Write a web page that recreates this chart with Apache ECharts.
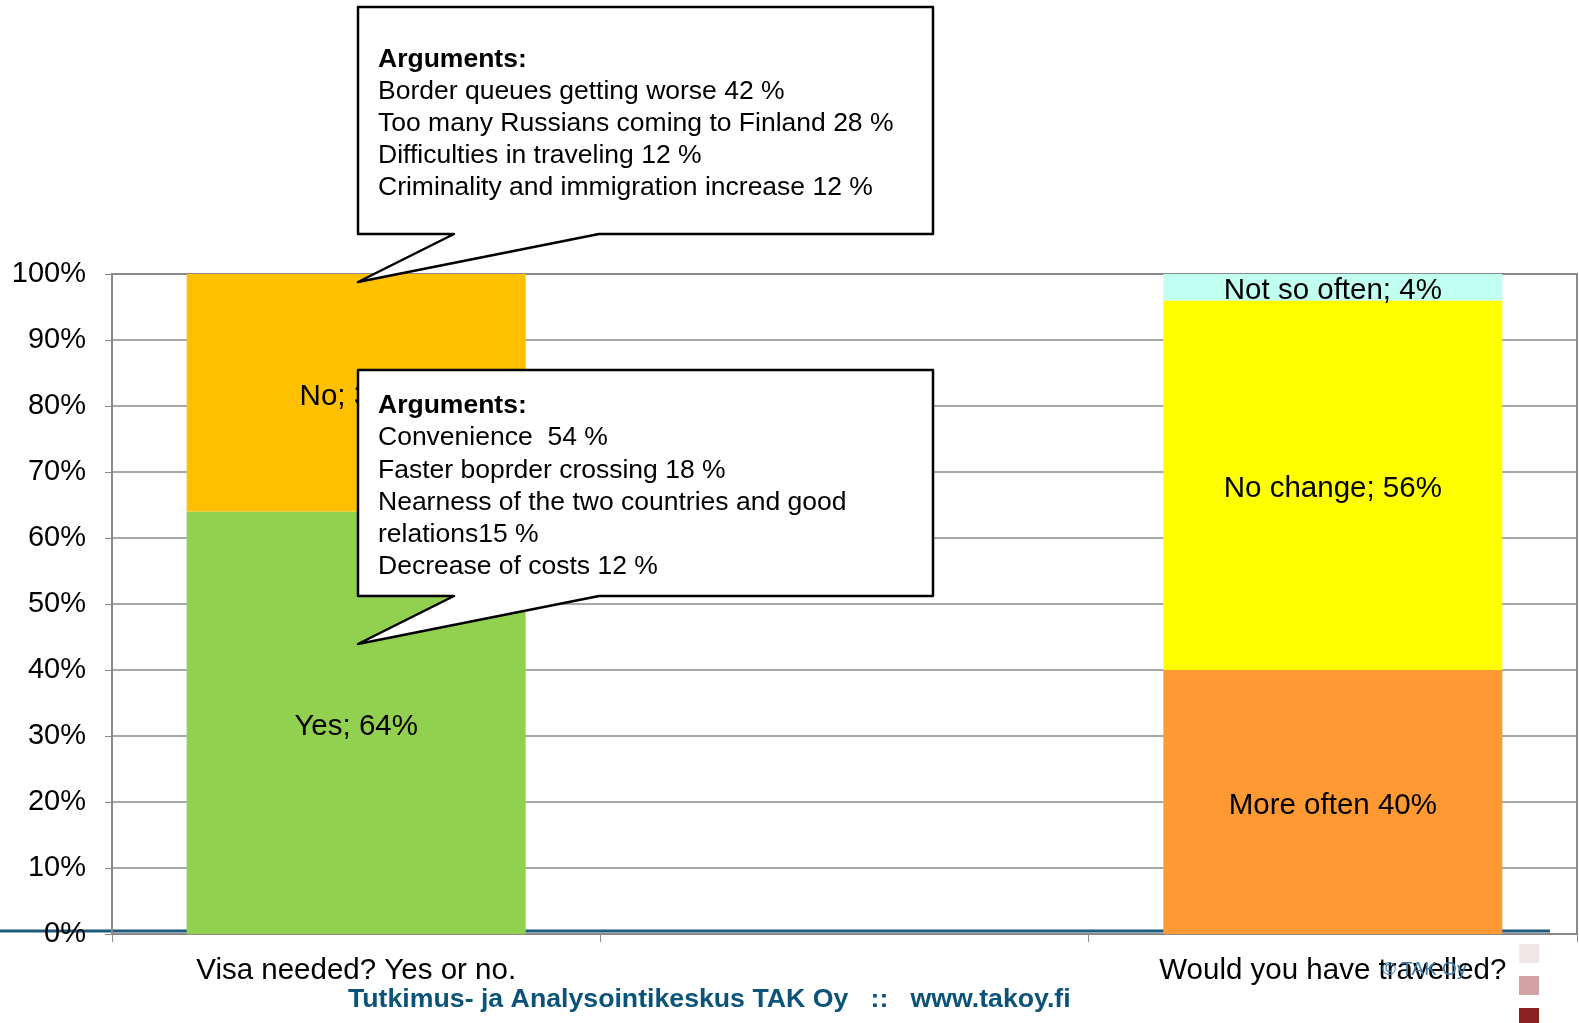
<!DOCTYPE html>
<html>
<head>
    <meta charset="UTF-8">
    <title>Visa</title>
    <script type="text/javascript" src="https://cdn.jsdelivr.net/npm/echarts@6/dist/echarts.min.js"></script>
    <style>
        body { margin: 0; background: #ffffff; }
        #main { width: 1579px; height: 1023px; }
    </style>
</head>
<body>
<div id="main"></div>
<script>
    var categories = ['Visa needed? Yes or no.', '', 'Would you have travelled?'];
    var yesData = [64, null, null];
    var noData = [36, null, null];
    var moreOften = [null, null, 40];
    var noChange = [null, null, 56];
    var notSoOften = [null, null, 4];
    var seriesNames = ['Yes', 'No', 'More often', 'No change', 'Not so often'];
    var labelSep = ['; ', '; ', ' ', '; ', '; '];
    var colors = ['#92d050', '#ffc000', '#ff9933', '#ffff00', '#c1fff0'];

    var topArgs = ['Border queues getting worse 42 %', 'Too many Russians coming to Finland 28 %',
        'Difficulties in traveling 12 %', 'Criminality and immigration increase 12 %'];
    var lowArgs = ['Convenience  54 %', 'Faster boprder crossing 18 %',
        'Nearness of the two countries and good', 'relations15 %', 'Decrease of costs 12 %'];

    var font = 'Liberation Sans, Arial, sans-serif';

    function makeSeries(idx, data) {
        return {
            name: seriesNames[idx],
            type: 'bar',
            stack: 'all',
            barWidth: 339,
            data: data,
            itemStyle: { color: colors[idx] },
            label: {
                show: true,
                position: 'inside',
                offset: [0, 4],
                color: '#000',
                fontFamily: font,
                fontSize: 29.5,
                formatter: function (p) { return seriesNames[idx] + labelSep[idx] + p.value + '%'; }
            }
        };
    }

    // speech-bubble box with its pointer
    function bubble(top, bottom, tipY) {
        return {
            type: 'polygon',
            z: 100,
            shape: { points: [[358, top], [933, top], [933, bottom], [599, bottom],
                [358, tipY], [454, bottom], [358, bottom]] },
            style: { fill: '#fff', stroke: '#000', lineWidth: 2.5, lineJoin: 'round' }
        };
    }

    function textLine(txt, y, bold) {
        return { type: 'text', z: 101, left: 378, top: y,
            style: { text: txt, font: (bold ? 'bold ' : '') + '26.5px ' + font, fill: '#000' } };
    }

    var graphics = [];
    // blue decoration line behind bars
    graphics.push({
        type: 'line', z: 0,
        shape: { x1: 0, y1: 931, x2: 1550, y2: 931 },
        style: { stroke: '#1d5b7c', lineWidth: 3 }
    });
    graphics.push(bubble(7, 234, 282));
    graphics.push(textLine('Arguments:', 46, true));
    topArgs.forEach(function (t, i) {
        graphics.push(textLine(t, 78 + i * 32.2, false));
    });
    graphics.push(bubble(370, 596, 644));
    graphics.push(textLine('Arguments:', 392, true));
    lowArgs.forEach(function (t, i) {
        graphics.push(textLine(t, 424.5 + i * 32.2, false));
    });
    graphics.push({
        type: 'text', z: 50, left: 348, top: 986,
        style: { text: 'Tutkimus- ja Analysointikeskus TAK Oy   ::   www.takoy.fi',
            font: 'bold 26.7px Liberation Sans Narrow, Arial Narrow, sans-serif', fill: '#0b5479' }
    });
    graphics.push({
        type: 'text', z: 50, left: 1382, top: 960,
        style: { text: '© TAK Oy', font: '19px ' + font, fill: '#3c7fb0' }
    });
    var squares = ['#f2e6e6', '#d1a1a3', '#8b2020'];
    squares.forEach(function (c, i) {
        graphics.push({ type: 'rect', z: 50, shape: { x: 1519, y: 944 + i * 32, width: 20, height: 19 },
            style: { fill: c } });
    });

    var chart = echarts.init(document.getElementById('main'));
    chart.setOption({
        animation: false,
        grid: { left: 112, right: 2, top: 274, bottom: 89, show: true,
            borderColor: '#8a8a8a', borderWidth: 2, backgroundColor: 'transparent' },
        xAxis: {
            type: 'category',
            data: categories,
            axisLine: { lineStyle: { color: '#8a8a8a', width: 2 } },
            axisTick: { show: true, length: 8, lineStyle: { color: '#8a8a8a' } },
            axisLabel: { color: '#000', fontFamily: font, fontSize: 29.5, margin: 22 }
        },
        yAxis: {
            type: 'value',
            min: 0, max: 100, interval: 10,
            axisLine: { show: true, lineStyle: { color: '#8a8a8a', width: 2 } },
            axisTick: { show: true, length: 7, lineStyle: { color: '#8a8a8a' } },
            splitLine: { lineStyle: { color: '#8a8a8a', width: 1.5 } },
            axisLabel: { color: '#000', fontFamily: font, fontSize: 29, margin: 26,
                formatter: '{value}%' }
        },
        series: [
            makeSeries(0, yesData),
            makeSeries(1, noData),
            makeSeries(2, moreOften),
            makeSeries(3, noChange),
            makeSeries(4, notSoOften)
        ],
        graphic: graphics
    });
</script>
</body>
</html>
